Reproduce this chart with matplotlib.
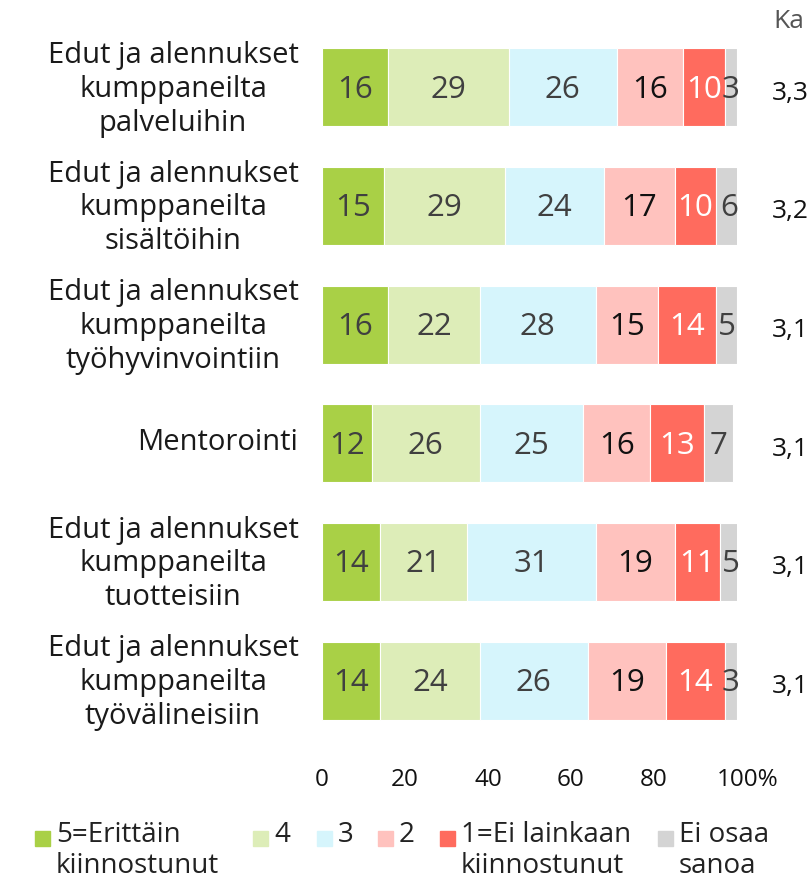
import matplotlib.pyplot as plt
import matplotlib.patches as mpatches
from matplotlib.transforms import blended_transform_factory, ScaledTranslation

plt.rcParams['font.family'] = ['Open Sans', 'DejaVu Sans']

# data
categories = [
    'Edut ja alennukset\nkumppaneilta\npalveluihin',
    'Edut ja alennukset\nkumppaneilta\nsisältöihin',
    'Edut ja alennukset\nkumppaneilta\ntyöhyvinvointiin',
    'Mentorointi',
    'Edut ja alennukset\nkumppaneilta\ntuotteisiin',
    'Edut ja alennukset\nkumppaneilta\ntyövälineisiin',
]
series_names = ['5=Erittäin\nkiinnostunut', '4', '3', '2', '1=Ei lainkaan\nkiinnostunut', 'Ei osaa\nsanoa']
values = [
    [16, 29, 26, 16, 10, 3],
    [15, 29, 24, 17, 10, 6],
    [16, 22, 28, 15, 14, 5],
    [12, 26, 25, 16, 13, 7],
    [14, 21, 31, 19, 11, 5],
    [14, 24, 26, 19, 14, 3],
]
averages = ['3,3', '3,2', '3,1', '3,1', '3,1', '3,1']
ticks = [0, 20, 40, 60, 80, 100]
tick_labels = ['0', '20', '40', '60', '80', '100%']

colors = ['#A9D046', '#DDEDB8', '#D6F5FC', '#FFC2BE', '#FF6B5E', '#D4D4D4']
label_colors = ['#404040', '#404040', '#404040', '#111111', 'white', '#404040']

fig = plt.figure(figsize=(8.1, 8.82), dpi=100)
W, H = 810, 882
ax = fig.add_axes([322 / W, 1 - 740 / H, (737 - 322) / W, (740 - 28) / H])

for i, row in enumerate(values):
    left = 0
    for j, v in enumerate(row):
        ax.barh(i, v, left=left, height=0.66, color=colors[j], edgecolor='white', linewidth=0.8)
        ax.text(left + v / 2, i + 0.02, str(v), ha='center', va='center',
                fontsize=22.5, color=label_colors[j])
        left += v

ax.set_xlim(0, 100)
ax.set_ylim(5.5, -0.5)
ax.set_yticks(range(len(categories)))
ax.set_yticklabels(categories, fontsize=21, multialignment='center', color='#1a1a1a',
                   linespacing=1.22)
ax.set_xticks(ticks)
ax.set_xticklabels(tick_labels, fontsize=17.5, color='#111111')
ax.tick_params(axis='both', length=0)
ax.tick_params(axis='y', pad=17)
ax.tick_params(axis='x', pad=20)
for s in ax.spines.values():
    s.set_visible(False)

# category labels sit a touch higher in the original
for lab in ax.get_yticklabels():
    lab.set_transform(lab.get_transform() + ScaledTranslation(0, 0.04, fig.dpi_scale_trans))

# "100%": keep the number centred on the tick, % hangs to the right
last = ax.get_xticklabels()[-1]
last.set_transform(last.get_transform() + ScaledTranslation(0.11, 0, fig.dpi_scale_trans))

# average column
tr = blended_transform_factory(fig.transFigure, ax.transData)
for i, a in enumerate(averages):
    ax.text(772 / W, i + 0.05, a, transform=tr, ha='left', va='center', fontsize=19, color='#111111')
fig.text(773 / W, 1 - 22 / H, 'Ka', ha='left', va='center', fontsize=19, color='#555555')

# legend
leg_x = [35, 253, 317, 378, 440, 658]
for x, name, c in zip(leg_x, series_names, colors):
    fig.patches.append(mpatches.Rectangle((x / W, 1 - 846 / H), 15 / W, 15 / H,
                                          transform=fig.transFigure, color=c))
    fig.text((x + 21) / W, 1 - 821 / H, name, ha='left', va='top', fontsize=20,
             color='#222222', linespacing=1.15)

fig.savefig('out.png', dpi=100)
